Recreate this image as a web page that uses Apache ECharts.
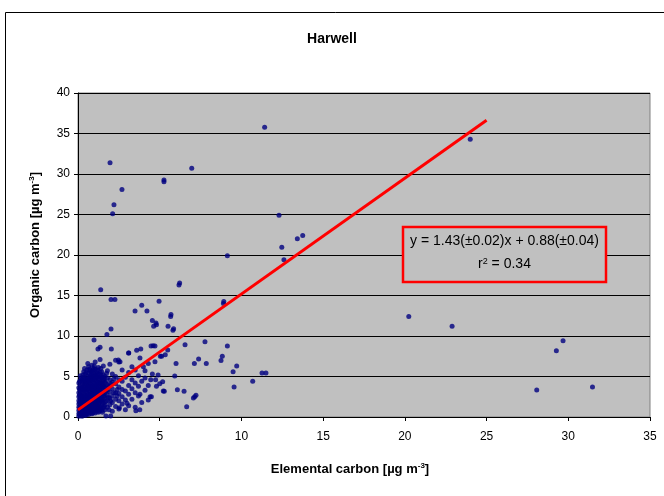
<!DOCTYPE html>
<html><head><meta charset="utf-8">
<script src="https://cdn.jsdelivr.net/npm/echarts@6/dist/echarts.min.js"></script>
<style>html,body{margin:0;padding:0;background:#fff}#c{width:664px;height:496px}</style>
</head><body><div id="c"></div>
<script>
// Elemental carbon (x) vs organic carbon (y), µg m-3
const clusterPoints = [
[0.05,0.1],[0.05,0.4],[0.05,0.8],[0.05,1.2],[0.05,1.6],[0.05,2.0],[0.05,2.5],[0.05,3.0],[0.05,3.6],[0.05,4.2],
[0.15,0.2],[0.15,0.6],[0.15,1.0],[0.15,1.4],[0.15,1.9],[0.15,2.3],[0.15,2.8],[0.15,3.3],[0.15,3.9],[0.15,4.5],[0.15,5.1],
[0.25,0.1],[0.25,0.5],[0.25,0.9],[0.25,1.3],[0.25,1.7],[0.25,2.1],[0.25,2.6],[0.25,3.1],[0.25,3.5],[0.25,4.0],[0.25,4.6],
[0.35,0.3],[0.35,0.7],[0.35,1.1],[0.35,1.5],[0.35,2.0],[0.35,2.4],[0.35,2.9],[0.35,3.4],[0.35,3.8],[0.35,4.3],[0.35,4.9],[0.35,5.6],
[0.45,0.2],[0.45,0.6],[0.45,1.0],[0.45,1.4],[0.45,1.8],[0.45,2.2],[0.45,2.7],[0.45,3.2],[0.45,3.7],[0.45,4.1],[0.45,4.7],[0.45,5.3],
[0.55,0.4],[0.55,0.8],[0.55,1.2],[0.55,1.6],[0.55,2.0],[0.55,2.5],[0.55,3.0],[0.55,3.5],[0.55,4.0],[0.55,4.4],[0.55,5.0],[0.55,5.8],
[0.65,0.3],[0.65,0.7],[0.65,1.1],[0.65,1.5],[0.65,1.9],[0.65,2.3],[0.65,2.8],[0.65,3.3],[0.65,3.8],[0.65,4.2],[0.65,4.8],[0.65,5.4],[0.65,6.2],
[0.75,0.5],[0.75,0.9],[0.75,1.3],[0.75,1.7],[0.75,2.1],[0.75,2.6],[0.75,3.1],[0.75,3.6],[0.75,4.1],[0.75,4.6],[0.75,5.1],[0.75,5.7],
[0.85,0.4],[0.85,0.8],[0.85,1.2],[0.85,1.6],[0.85,2.0],[0.85,2.4],[0.85,2.9],[0.85,3.4],[0.85,3.9],[0.85,4.5],[0.85,5.0],[0.85,5.6],[0.85,6.4],
[0.95,0.6],[0.95,1.0],[0.95,1.4],[0.95,1.8],[0.95,2.3],[0.95,2.8],[0.95,3.2],[0.95,3.7],[0.95,4.3],[0.95,4.8],[0.95,5.4],[0.95,6.0],
[1.05,0.5],[1.05,0.9],[1.05,1.3],[1.05,1.8],[1.05,2.2],[1.05,2.6],[1.05,3.1],[1.05,3.6],[1.05,4.0],[1.05,4.6],[1.05,5.2],[1.05,5.9],[1.05,6.8],
[1.15,0.7],[1.15,1.1],[1.15,1.5],[1.15,2.0],[1.15,2.4],[1.15,2.9],[1.15,3.4],[1.15,3.9],[1.15,4.4],[1.15,5.0],[1.15,5.6],
[1.25,0.6],[1.25,1.0],[1.25,1.6],[1.25,2.1],[1.25,2.5],[1.25,3.0],[1.25,3.5],[1.25,4.1],[1.25,4.7],[1.25,5.3],[1.25,6.1],
[1.35,0.9],[1.35,1.3],[1.35,1.9],[1.35,2.3],[1.35,2.8],[1.35,3.3],[1.35,3.8],[1.35,4.3],[1.35,4.9],[1.35,5.5],[1.35,7.1],
[1.45,0.8],[1.45,1.4],[1.45,2.0],[1.45,2.6],[1.45,3.1],[1.45,3.7],[1.45,4.2],[1.45,4.8],[1.45,5.6],
[1.55,1.1],[1.55,1.7],[1.55,2.2],[1.55,2.8],[1.55,3.4],[1.55,3.9],[1.55,4.5],[1.55,5.2],[1.55,6.3],
[1.65,0.9],[1.65,1.5],[1.65,2.4],[1.65,3.0],[1.65,3.6],[1.65,4.4],[1.65,5.0],
[1.8,1.2],[1.8,2.0],[1.8,2.7],[1.8,3.3],[1.8,4.0],[1.8,4.8],[1.8,5.7],
[1.95,1.5],[1.95,2.3],[1.95,3.1],[1.95,3.8],[1.95,4.6],[1.95,6.5],
[2.1,0.7],[2.1,1.8],[2.1,2.6],[2.1,3.5],[2.1,4.3],[2.1,5.3],
[2.3,1.3],[2.3,2.2],[2.3,3.0],[2.3,4.1],[2.3,5.0],[2.3,7.0],
[2.5,1.0],[2.5,2.0],[2.5,2.9],[2.5,3.7],[2.5,4.6],[2.5,6.8],
[2.7,1.6],[2.7,2.5],[2.7,3.4],[2.7,4.4],[2.7,5.8],
[2.9,0.9],[2.9,2.1],[2.9,3.2],[2.9,4.9],
[3.1,1.4],[3.1,2.8],[3.1,3.9],[3.1,5.5],[3.1,7.9],
[3.3,2.2],[3.3,3.5],[3.3,4.6],[3.3,6.2],
[3.5,1.2],[3.5,3.0],[3.5,4.2],[3.5,5.8],[3.59,8.23],
[3.7,2.6],[3.7,3.8],[3.7,5.1],[3.79,7.28],
[3.9,1.8],[3.79,2.8],[3.9,4.4],[4.0,6.2],
[4.1,3.3],[4.1,4.8],[4.1,5.7],
[4.3,2.1],[4.3,3.9],[4.3,6.6],
[1.08,-0.1],[1.71,0.12],[2.0,0.12],[2.53,1.15],[3.0,1.7],[3.54,0.78],[3.78,0.9]
];
const clusterFillPoints = [
[0.1,0.3],[0.1,1.1],[0.1,1.8],[0.1,2.7],[0.1,3.4],[0.1,4.4],[0.2,0.8],[0.2,1.6],[0.2,2.4],[0.2,3.6],[0.2,4.8],
[0.3,0.4],[0.3,1.2],[0.3,2.3],[0.3,3.3],[0.3,4.4],[0.3,5.2],[0.4,0.9],[0.4,1.7],[0.4,2.6],[0.4,3.6],[0.4,4.6],[0.4,6.0],
[0.5,0.3],[0.5,1.3],[0.5,2.3],[0.5,3.4],[0.5,4.3],[0.5,5.5],[0.6,1.0],[0.6,1.8],[0.6,2.7],[0.6,3.7],[0.6,4.6],[0.6,6.6],
[0.7,0.6],[0.7,1.4],[0.7,2.4],[0.7,3.5],[0.7,4.4],[0.7,5.9],[0.8,1.0],[0.8,1.9],[0.8,2.8],[0.8,3.8],[0.8,4.8],[0.8,5.3],
[0.9,0.5],[0.9,1.5],[0.9,2.6],[0.9,3.5],[0.9,4.6],[0.9,5.8],[1.0,1.1],[1.0,2.0],[1.0,3.0],[1.0,4.1],[1.0,5.0],[1.0,6.3],
[1.1,0.8],[1.1,1.7],[1.1,2.7],[1.1,3.7],[1.1,4.8],[1.1,5.4],[1.2,1.3],[1.2,2.3],[1.2,3.2],[1.2,4.3],[1.2,5.0],[1.2,5.8],
[1.3,0.7],[1.3,1.8],[1.3,2.7],[1.3,3.7],[1.3,4.6],[1.4,1.1],[1.4,2.2],[1.4,3.2],[1.4,4.1],[1.4,5.2],[1.4,6.0],
[1.5,0.6],[1.5,1.9],[1.5,2.9],[1.5,4.0],[1.5,4.9],[1.6,1.3],[1.6,2.6],[1.6,3.7],[1.6,4.7],[1.7,1.9],[1.7,3.2],[1.7,4.2],
[1.75,5.4],[1.85,2.4],[1.85,3.7],[1.9,0.9],[2.0,2.0],[2.0,4.1],[2.2,3.0],[2.2,4.7],[2.4,2.6],[2.4,3.4]
];
const outlierPoints = [
[11.42,35.76],[1.96,31.4],[6.96,30.7],[5.26,29.05],[5.26,29.25],[2.69,28.1],[2.2,26.2],[2.12,25.1],
[9.14,19.9],[12.3,24.9],[13.75,22.4],[13.42,22.0],[12.47,20.95],[12.6,19.4],[6.18,16.3],[6.22,16.55],
[24.0,34.3],[20.24,12.4],[22.89,11.2],[29.68,9.42],[29.27,8.19],[28.07,3.33],[31.48,3.7],
[10.69,4.4],[11.26,5.43],[11.5,5.43],
[4.96,14.3],[8.9,14.0],[8.92,14.25],[4.55,11.9],[4.77,11.6],[4.8,11.4],[4.63,11.2],[5.67,12.4],[5.69,12.65],
[5.51,11.2],[5.81,10.7],[5.85,10.9],[4.47,8.77],[4.71,8.77],[6.55,8.93],[7.77,9.3],[9.14,8.77],
[5.49,8.27],[5.34,7.7],[5.04,7.5],[5.12,7.5],[4.71,6.83],[6.0,6.6],[7.12,6.6],[7.38,7.16],[7.85,6.6],
[8.83,7.5],[8.75,6.96],[9.71,6.3],[9.49,5.6],[5.92,5.06],[4.55,5.3],[4.9,5.2],[4.45,4.6],[4.75,4.6],
[5.18,4.36],[5.0,4.1],[4.8,3.8],[5.28,3.17],[4.49,2.5],[6.08,3.37],[6.49,3.17],[7.06,2.35],[7.14,2.5],
[7.22,2.67],[6.65,1.27],[9.55,3.7],[1.39,15.7],[2.02,14.5],[2.26,14.5],[3.49,13.1],[3.9,13.8],[4.22,13.1],
[2.02,10.86],[1.77,10.2],[0.98,9.5],[1.22,8.4],[1.35,8.6],[2.04,8.4],[3.84,8.4],[4.6,8.8],[3.1,7.9],
[2.47,7.04],[2.57,6.83],[4.41,2.5],[5.22,3.2]
];
const fitSlope = 1.43, fitIntercept = 0.88, fitXRange = [0, 25];
const xTicks = [0,5,10,15,20,25,30,35];
const yTicks = [0,5,10,15,20,25,30,35,40];

const fitLine = fitXRange.map(x => [x, fitSlope * x + fitIntercept]);
const chart = echarts.init(document.getElementById('c'), null, {renderer: 'canvas'});
const font = 'Liberation Sans, Arial, sans-serif';
const nameRich = {a: {fontFamily: font, fontSize: 13, fontWeight: 'bold', color: '#000'},
  s: {fontFamily: font, fontSize: 8, fontWeight: 'bold', color: '#000', verticalAlign: 'top', padding: [0,0,6,0]}};
chart.setOption({
  animation: false,
  backgroundColor: '#fff',
  title: {text: 'Harwell', left: 'center', top: 27,
    textStyle: {fontFamily: font, fontSize: 14, fontWeight: 'bold', color: '#000'}},
  grid: {left: 78, right: 14, top: 93, bottom: 79, show: true,
    backgroundColor: '#C0C0C0', borderColor: '#808080', borderWidth: 1},
  xAxis: {type: 'value', min: xTicks[0], max: xTicks[xTicks.length-1], interval: 5,
    name: '{a|Elemental carbon [µg m}{s|-3}{a|]}', nameLocation: 'middle', nameGap: 45,
    nameTextStyle: {padding: [0, 28, 0, 0], rich: nameRich},
    axisLine: {lineStyle: {color: '#000', width: 1}},
    axisTick: {show: true, inside: false, length: 4, lineStyle: {color: '#000'}},
    axisLabel: {fontFamily: font, fontSize: 12, color: '#000', margin: 14},
    splitLine: {show: false}},
  yAxis: {type: 'value', min: yTicks[0], max: yTicks[yTicks.length-1], interval: 5,
    name: '{a|Organic carbon [µg m}{s|-3}{a|]}', nameLocation: 'middle', nameGap: 36,
    nameTextStyle: {padding: [0, 0, 0, 20], rich: nameRich},
    axisLine: {show: true, lineStyle: {color: '#000', width: 1}},
    axisTick: {show: true, inside: false, length: 4, lineStyle: {color: '#000'}},
    axisLabel: {fontFamily: font, fontSize: 12, color: '#000', margin: 8},
    splitLine: {show: true, lineStyle: {color: '#000', width: 1}}},
  series: [
    {type: 'scatter', data: clusterPoints.concat(clusterFillPoints, outlierPoints), symbol: 'circle', symbolSize: 5,
      itemStyle: {color: '#000080'}, z: 3},
    {type: 'line', data: fitLine, symbol: 'none', lineStyle: {color: '#FF0000', width: 3}, z: 4}
  ],
  graphic: [
    {type: 'rect', shape: {x: 5.5, y: 12.5, width: 700, height: 600}, style: {fill: 'none', stroke: '#000', lineWidth: 1}, z: -1, silent: true},
    {type: 'rect', shape: {x: 403, y: 227, width: 203, height: 55}, style: {fill: '#C0C0C0', stroke: '#FF0000', lineWidth: 2.5}, z: 10},
    {type: 'text', z: 11, style: {text: 'y = 1.43(±0.02)x + 0.88(±0.04)', x: 504.5, y: 234,
      align: 'center', fontFamily: font, fontSize: 14, fill: '#000'}},
    {type: 'text', z: 11, style: {text: 'r{s|2} = 0.34', x: 504.5, y: 257, align: 'center', fontFamily: font, fontSize: 14, fill: '#000',
      rich: {s: {fontSize: 9, verticalAlign: 'top', padding: [0,0,6,0], fontFamily: font, fill: '#000'}}}}
  ]
});
</script></body></html>
